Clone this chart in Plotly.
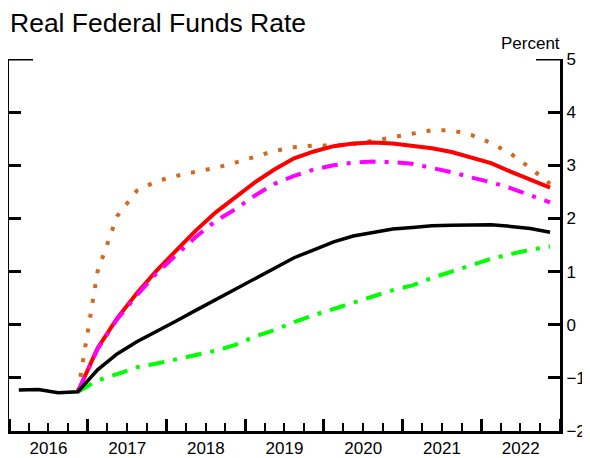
import plotly.graph_objects as go
import pandas as pd

# ---- data (quarterly, percent) ----
hist_quarters = ["2016Q1", "2016Q2", "2016Q3", "2016Q4"]
hist_values = [-1.23, -1.22, -1.28, -1.26]

proj_quarters = ["2016Q4",
                 "2017Q1", "2017Q2", "2017Q3", "2017Q4",
                 "2018Q1", "2018Q2", "2018Q3", "2018Q4",
                 "2019Q1", "2019Q2", "2019Q3", "2019Q4",
                 "2020Q1", "2020Q2", "2020Q3", "2020Q4",
                 "2021Q1", "2021Q2", "2021Q3", "2021Q4",
                 "2022Q1", "2022Q2", "2022Q3", "2022Q4"]

black_values = [-1.26, -0.85, -0.55, -0.32, -0.13, 0.07, 0.27, 0.47, 0.67,
                0.88, 1.07, 1.26, 1.41, 1.56, 1.67, 1.74, 1.80,
                1.83, 1.86, 1.87, 1.88, 1.88, 1.85, 1.81, 1.74]
red_values = [-1.26, -0.44, 0.12, 0.59, 1.02, 1.40, 1.77, 2.11, 2.40,
              2.68, 2.92, 3.13, 3.26, 3.36, 3.41, 3.43, 3.41,
              3.37, 3.32, 3.25, 3.14, 3.04, 2.88, 2.74, 2.58]
magenta_values = [-1.26, -0.46, 0.10, 0.55, 0.97, 1.30, 1.65, 1.95, 2.17,
                  2.43, 2.65, 2.80, 2.92, 3.00, 3.05, 3.07, 3.06,
                  3.03, 2.96, 2.87, 2.77, 2.68, 2.57, 2.44, 2.30]
orange_values = [-1.26, 1.00, 2.04, 2.52, 2.70, 2.80, 2.88, 2.95, 3.05,
                 3.17, 3.27, 3.34, 3.37, 3.37, 3.40, 3.46, 3.53,
                 3.61, 3.66, 3.66, 3.57, 3.42, 3.22, 2.95, 2.65]
green_values = [-1.26, -1.05, -0.93, -0.80, -0.73, -0.65, -0.58, -0.49, -0.38,
                -0.22, -0.10, 0.05, 0.18, 0.30, 0.41, 0.53, 0.65,
                0.74, 0.88, 1.00, 1.12, 1.24, 1.33, 1.41, 1.47]

y_tickvals = [-2, -1, 0, 1, 2, 3, 4, 5]
y_ticktext = ["\u22122", "\u22121", "0", "1", "2", "3", "4", "5"]


def mid_quarter(q):
    p = pd.Period(q, freq="Q")
    return p.start_time + (p.end_time - p.start_time) / 2


hist_x = [mid_quarter(q) for q in hist_quarters]
proj_x = [mid_quarter(q) for q in proj_quarters]

fig = go.Figure()
fig.add_trace(go.Scatter(x=proj_x, y=orange_values, mode="lines",
                         line=dict(color="#D2691E", width=4, dash="4px,11px")))
fig.add_trace(go.Scatter(x=proj_x, y=red_values, mode="lines",
                         line=dict(color="#FF0000", width=4)))
fig.add_trace(go.Scatter(x=proj_x, y=magenta_values, mode="lines",
                         line=dict(color="#FF00FF", width=4, dash="16px,9px,4px,9px")))
fig.add_trace(go.Scatter(x=proj_x, y=green_values, mode="lines",
                         line=dict(color="#00FF00", width=4, dash="16px,9px,4px,9px")))
fig.add_trace(go.Scatter(x=hist_x + proj_x[1:], y=hist_values + black_values[1:], mode="lines",
                         line=dict(color="#000000", width=3.5)))

# page body has an 8px margin: shrink figure so it fills the 590x458 window
W, H = 582, 450
fig.update_layout(
    width=W, height=H,
    margin=dict(l=1, r=30, t=51, b=27, autoexpand=False),
    paper_bgcolor="white", plot_bgcolor="white",
    showlegend=False,
    font=dict(family="Liberation Sans, Arial, sans-serif", color="black", size=17),
    title=dict(text="Real Federal Funds Rate", xref="container", yref="container",
               x=2 / W, xanchor="left", y=1 - 5 / H, yanchor="top",
               font=dict(size=26.5, color="black")),
    xaxis=dict(type="date", range=["2016-01-01", "2023-01-01"],
               dtick="M12", tick0="2016-01-01", tickformat="%Y",
               ticklabelmode="period", ticks="inside", ticklen=12, tickwidth=2.5,
               tickcolor="black", showline=True, linewidth=3, linecolor="black",
               showgrid=False, zeroline=False, tickfont=dict(size=17), automargin=False,
               minor=dict(dtick="M3", tick0="2016-01-01", ticks="inside", ticklen=8,
                          tickwidth=2, tickcolor="black", showgrid=False)),
    yaxis=dict(range=[-2, 5], side="right", tickvals=y_tickvals,
               ticktext=y_ticktext,
               ticks="inside", ticklen=12, tickwidth=2.5, tickcolor="black",
               showline=True, linewidth=3, linecolor="black", mirror="ticks",
               showgrid=False, zeroline=False, tickfont=dict(size=17),
               automargin=False),
)

# longer cap ticks at the top of both vertical axes
fig.add_shape(type="line", xref="paper", yref="y", xsizemode="pixel", xanchor=0,
              x0=0, x1=24, y0=5, y1=5, line=dict(color="black", width=3))
fig.add_shape(type="line", xref="paper", yref="y", xsizemode="pixel", xanchor=1,
              x0=-24, x1=0, y0=5, y1=5, line=dict(color="black", width=3))

fig.add_annotation(text="Percent", xref="paper", yref="paper", x=1, y=1,
                   xanchor="right", yanchor="bottom", showarrow=False,
                   xshift=2, yshift=4, font=dict(size=17, color="black"))

fig.write_html("out.html")
